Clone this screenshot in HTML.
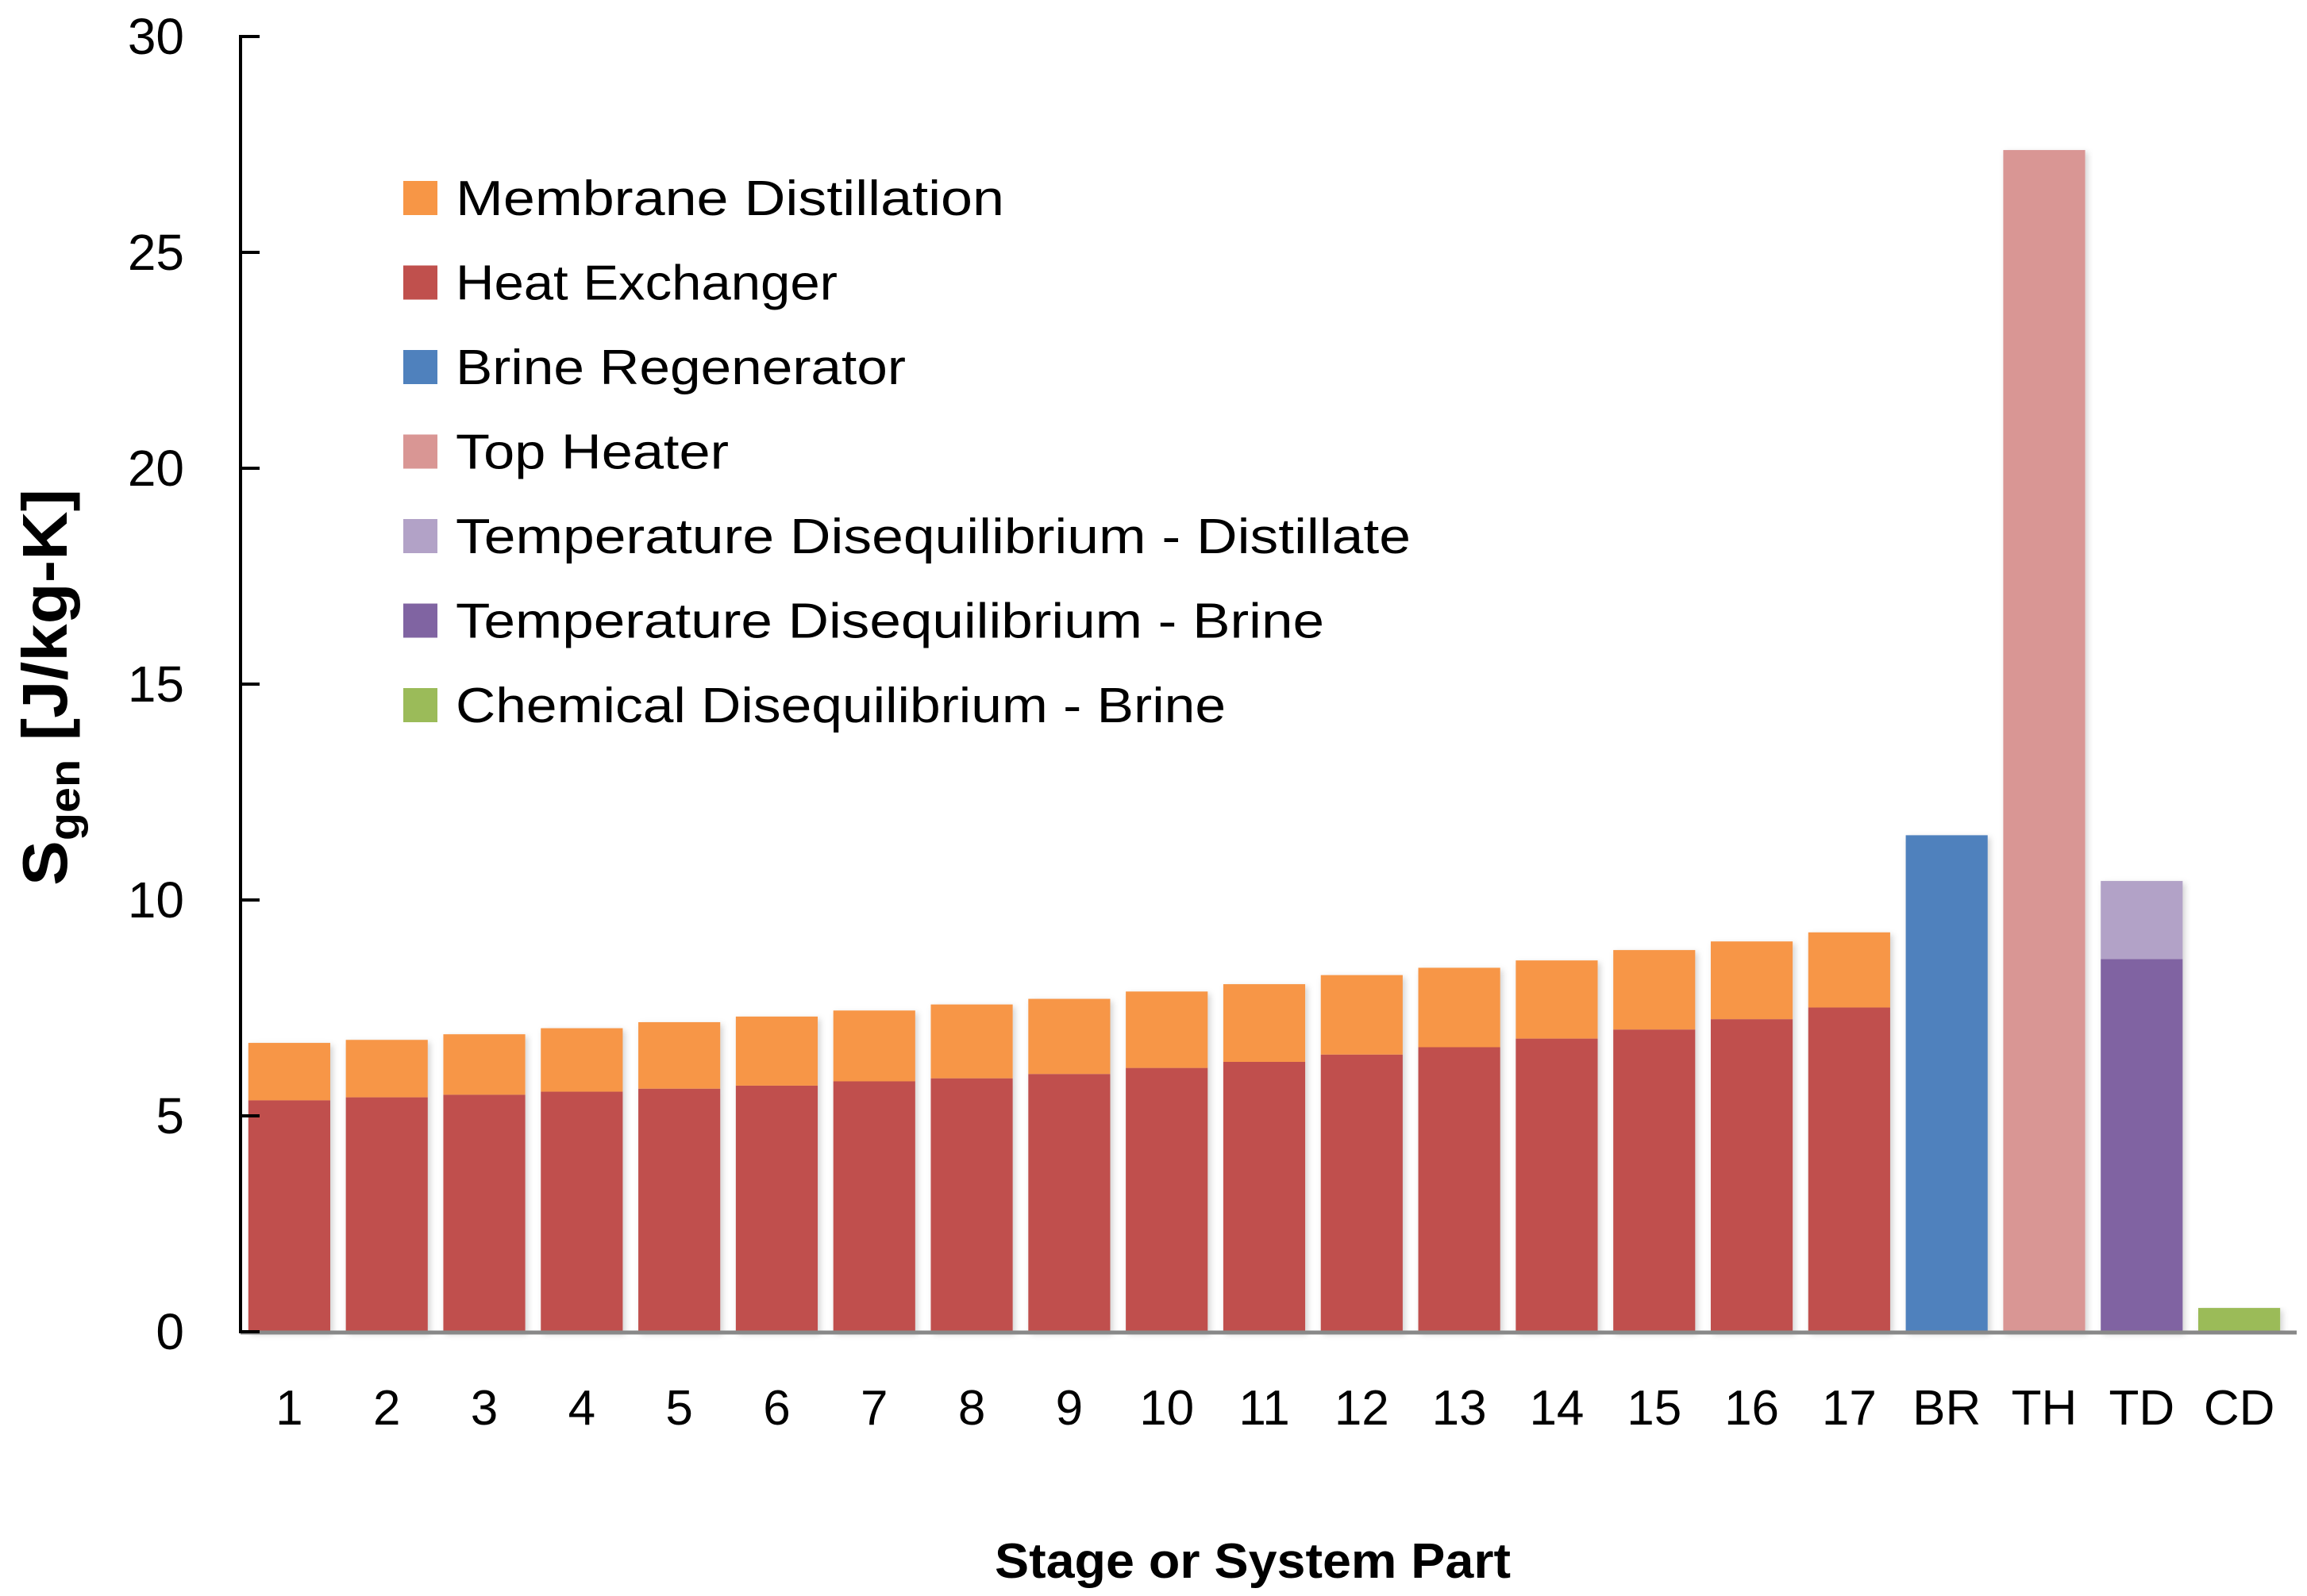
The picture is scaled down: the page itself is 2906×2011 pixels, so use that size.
<!DOCTYPE html>
<html><head><meta charset="utf-8"><style>
html,body{margin:0;padding:0;background:#fff;}
svg{display:block;font-family:"Liberation Sans",sans-serif;}
</style></head><body>
<svg id="chart" width="2906" height="2011" viewBox="0 0 2906 2011" xmlns="http://www.w3.org/2000/svg">
<defs><filter id="sh" x="-10%" y="-5%" width="120%" height="110%"><feDropShadow dx="3" dy="3" stdDeviation="4" flood-color="#000" flood-opacity="0.18"/></filter></defs>
<g id="bars"></g>
<g id="axes"></g>
<g id="legend"></g>
<text x="1578" y="1988" text-anchor="middle" font-size="62" font-weight="bold" textLength="650" lengthAdjust="spacingAndGlyphs">Stage or System Part</text>
<text transform="translate(84,866) rotate(-90)" text-anchor="middle" font-size="80" font-weight="bold" textLength="500" lengthAdjust="spacingAndGlyphs">S<tspan font-size="54" dy="16">gen</tspan><tspan dy="-16"> [J/kg-K]</tspan></text>
</svg>
<script>
const categories = ["1","2","3","4","5","6","7","8","9","10","11","12","13","14","15","16","17","BR","TH","TD","CD"];
const heatExchanger = [5.36,5.43,5.49,5.56,5.63,5.70,5.80,5.87,5.97,6.11,6.25,6.42,6.59,6.79,7.00,7.24,7.51,0,0,0,0];
const membraneDistillation = [1.33,1.33,1.40,1.47,1.54,1.60,1.64,1.71,1.74,1.77,1.80,1.84,1.84,1.81,1.84,1.80,1.74,0,0,0,0];
const brineRegenerator = [0,0,0,0,0,0,0,0,0,0,0,0,0,0,0,0,0,11.5,0,0,0];
const topHeater = [0,0,0,0,0,0,0,0,0,0,0,0,0,0,0,0,0,0,27.37,0,0];
const tdBrine = [0,0,0,0,0,0,0,0,0,0,0,0,0,0,0,0,0,0,0,8.63,0];
const tdDistillate = [0,0,0,0,0,0,0,0,0,0,0,0,0,0,0,0,0,0,0,1.81,0];
const cdBrine = [0,0,0,0,0,0,0,0,0,0,0,0,0,0,0,0,0,0,0,0,0.55];
const yTicks = [0,5,10,15,20,25,30];
const seriesNames = ["Membrane Distillation","Heat Exchanger","Brine Regenerator","Top Heater","Temperature Disequilibrium - Distillate","Temperature Disequilibrium - Brine","Chemical Disequilibrium - Brine"];

const NS="http://www.w3.org/2000/svg";
const X0=303, X1=2882, Y0=1678, YTOP=46, YMAX=30;
const slot=(X1-X0)/categories.length, bw=slot*0.84;
function y(v){return Y0-(v/YMAX)*(Y0-YTOP);}
function xc(i){return X0+slot*(i+0.5);}
function mk(tag,attrs,parent){const e=document.createElementNS(NS,tag);for(const k in attrs)e.setAttribute(k,attrs[k]);parent.appendChild(e);return e;}

const stack=[[heatExchanger,"#c0504d","heat-exchanger"],[membraneDistillation,"#f79646","membrane-distillation"],[brineRegenerator,"#4f81bd","brine-regenerator"],[topHeater,"#d99694","top-heater"],[tdBrine,"#8064a2","td-brine"],[tdDistillate,"#b2a2c7","td-distillate"],[cdBrine,"#9bbb59","cd-brine"]];
const bars=document.getElementById('bars');
categories.forEach((c,i)=>{
  let base=0;
  const g=mk('g',{filter:'url(#sh)'},bars);
  
  
  stack.forEach(([arr,col,nm])=>{
    const v=arr[i]; if(!v) return;
    const r=mk('rect',{x:xc(i)-bw/2,y:y(base+v),width:bw,height:y(base)-y(base+v),fill:col},g);
    
    
    base+=v;
  });
});
const ax=document.getElementById('axes');
const xl=mk('line',{x1:X0,y1:Y0+1,x2:2893,y2:Y0+1,stroke:'#888',"stroke-width":5},ax);


const yl=mk('line',{x1:X0,y1:YTOP-2,x2:X0,y2:Y0+2,stroke:'#000',"stroke-width":4},ax);


yTicks.forEach(t=>{
  const tk=mk('line',{x1:X0,y1:y(t),x2:X0+24,y2:y(t),stroke:'#000',"stroke-width":4},ax);
  
  
  const tl=mk('text',{x:232,y:y(t)+22,"text-anchor":"end","font-size":64},ax);
  tl.textContent=t;
  
  
});
categories.forEach((c,i)=>{
  const tl=mk('text',{x:xc(i),y:1795,"text-anchor":"middle","font-size":62},ax);
  tl.textContent=c;
  
  
});
const legCols=["#f79646","#c0504d","#4f81bd","#d99694","#b2a2c7","#8064a2","#9bbb59"];
const legW=[691,481,567,344,1203,1094,970];
const lg=document.getElementById('legend');
seriesNames.forEach((n,i)=>{
  const cy=250+i*106.5;
  const g=mk('g',{},lg);
  
  
  mk('rect',{x:508,y:cy-22,width:43,height:43,fill:legCols[i]},g);
  const t=mk('text',{x:574,y:cy+21,"font-size":62,textLength:legW[i],lengthAdjust:"spacingAndGlyphs"},g);
  t.textContent=n;
});
</script>
</body></html>
